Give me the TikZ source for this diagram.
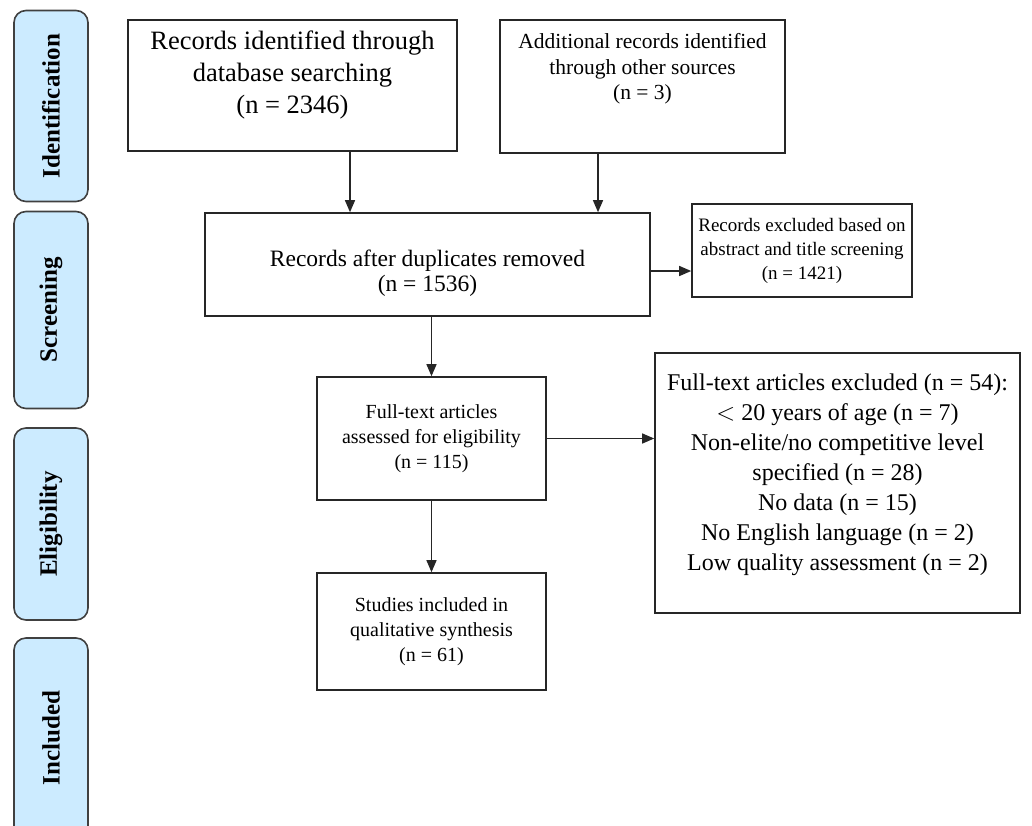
\documentclass[tikz,border=0pt]{standalone}
\usepackage{fontspec}
\setmainfont{Liberation Serif}
\usetikzlibrary{arrows.meta}
\definecolor{sideblue}{HTML}{CCEBFF}
\begin{document}
\begin{tikzpicture}[x=1pt,y=-1pt,
  box/.style={draw=black!85,line width=1.6pt,align=center,inner sep=0pt,font=\fontsize{20}{25}\selectfont},
  side/.style={draw=black!75,line width=1.6pt,fill=sideblue,rounded corners=12pt,rotate=90,minimum height=74pt,font=\bfseries\fontsize{25}{28}\selectfont},
  arr/.style={line width=1.3pt,draw=black!85,-{Triangle[length=12pt,width=10pt]}}]
\useasboundingbox (0,0) rectangle (1032,825);

\node[side,minimum width=191pt] (idf) at (51,106) {Identification};
\node[side,minimum width=197pt] (scr) at (51,310) {Screening};
\node[side,minimum width=192pt] (elg) at (51,524) {Eligibility};
\node[side,minimum width=200pt] (inc) at (51,738) {Included};

\node[box,minimum width=329pt,minimum height=131pt,font=\fontsize{26.5}{32}\selectfont] (rec) at (292.5,85.5) {Records identified through\\database searching\\(n = 2346)\rule[-26pt]{0pt}{26pt}};
\node[box,minimum width=285pt,minimum height=133pt,font=\fontsize{21.5}{25.5}\selectfont] (add) at (642.5,86.5) {Additional records identified\\through other sources\\(n = 3)\rule[-40pt]{0pt}{40pt}};
\node[box,minimum width=445pt,minimum height=103pt,font=\fontsize{23.5}{25}\selectfont] (dup) at (427.5,264.5) {\rule{0pt}{34pt}Records after duplicates removed\\(n = 1536)};
\node[box,minimum width=220pt,minimum height=93pt,font=\fontsize{19}{24}\selectfont] (exc) at (802,250.5) {Records excluded based on\\abstract and title screening\\(n = 1421)};
\node[box,minimum width=229pt,minimum height=123pt] (full) at (431.5,438.5) {Full-text articles\\assessed for eligibility\\(n = 115)};
\node[box,minimum width=365pt,minimum height=260pt,font=\fontsize{24}{30}\selectfont] (ftex) at (837.5,483) {Full-text articles excluded (n = 54):\\$<$ 20 years of age (n = 7)\\Non-elite/no competitive level\\specified (n = 28)\\No data (n = 15)\\No English language (n = 2)\\Low quality assessment (n = 2)\rule[-22pt]{0pt}{22pt}};
\node[box,minimum width=229pt,minimum height=117pt] (stud) at (431.5,631.5) {Studies included in\\qualitative synthesis\\(n = 61)};

\draw[arr] ([xshift=57.5pt]rec.south) -- ([xshift=57.5pt]rec.south |- dup.north);
\draw[arr] ([xshift=-44.5pt]add.south) -- ([xshift=-44.5pt]add.south |- dup.north);
\draw[arr] ([yshift=-6.5pt]dup.east) -- ([yshift=-6.5pt]dup.east -| exc.west);
\draw[arr] (full.north |- dup.south) -- (full.north);
\draw[arr] (full.east) -- (full.east -| ftex.west);
\draw[arr] (full.south) -- (stud.north);

\end{tikzpicture}
\end{document}
